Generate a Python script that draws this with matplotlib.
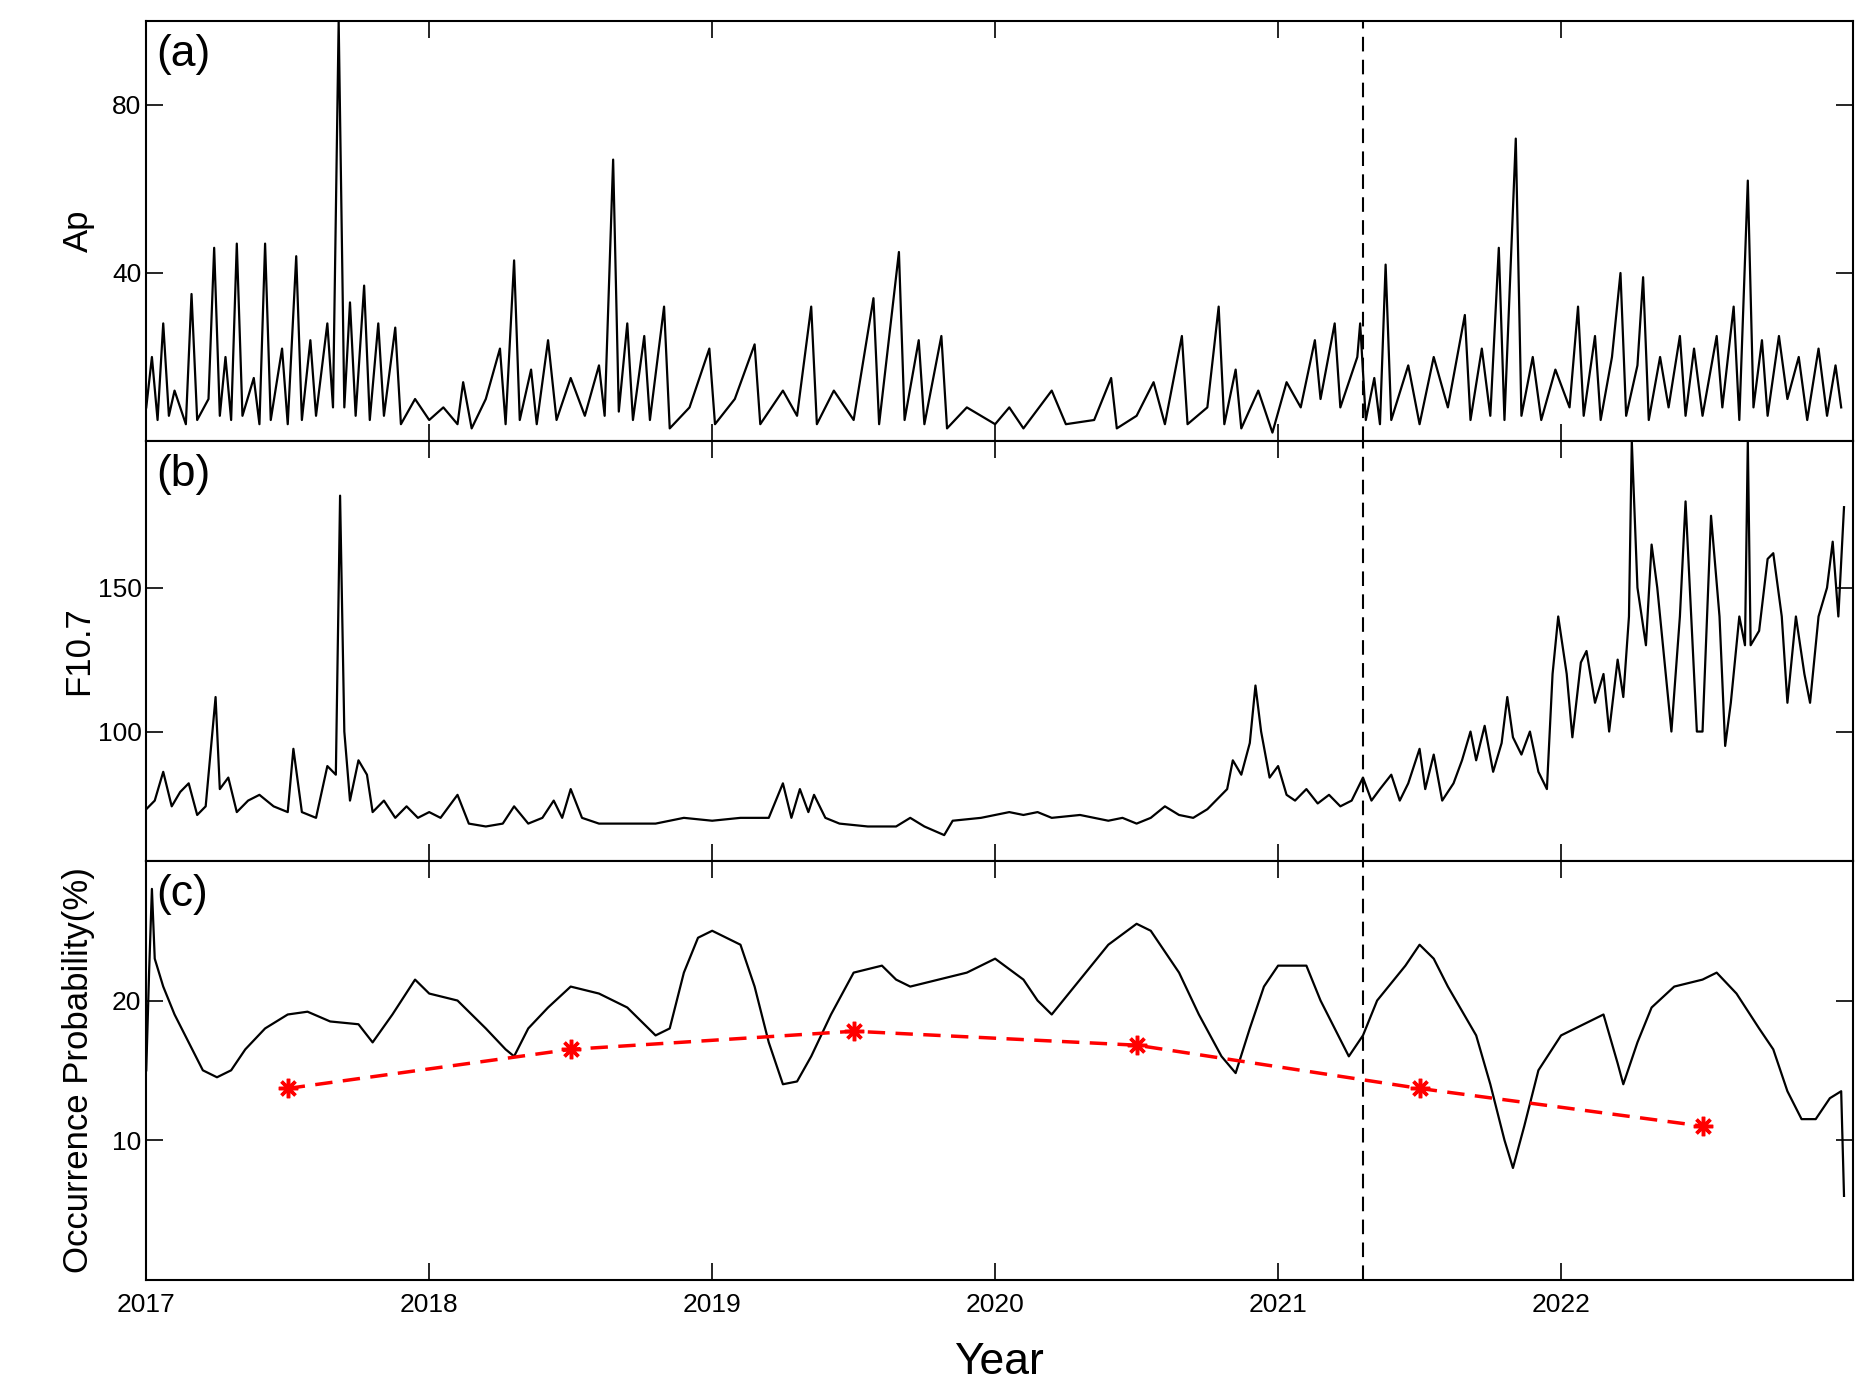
import matplotlib
matplotlib.use("Agg")
import matplotlib.pyplot as plt
import numpy as np

plt.rcParams['font.family'] = ['Liberation Sans', 'DejaVu Sans']

ap_t = [2017.00,2017.02,2017.04,2017.06,2017.08,2017.10,2017.14,2017.16,2017.18,2017.22,2017.24,2017.26,2017.28,2017.30,2017.32,2017.34,2017.38,2017.40,2017.42,2017.44,2017.48,2017.50,2017.53,2017.55,2017.58,2017.60,2017.64,2017.66,2017.68,2017.70,2017.72,2017.74,2017.77,2017.79,2017.82,2017.84,2017.88,2017.90,2017.95,2018.00,2018.05,2018.10,2018.12,2018.15,2018.20,2018.25,2018.27,2018.30,2018.32,2018.36,2018.38,2018.42,2018.45,2018.50,2018.55,2018.60,2018.62,2018.65,2018.67,2018.70,2018.72,2018.76,2018.78,2018.83,2018.85,2018.92,2018.99,2019.01,2019.08,2019.15,2019.17,2019.25,2019.30,2019.35,2019.37,2019.43,2019.50,2019.57,2019.59,2019.66,2019.68,2019.73,2019.75,2019.81,2019.83,2019.90,2020.00,2020.05,2020.10,2020.20,2020.25,2020.35,2020.41,2020.43,2020.50,2020.56,2020.60,2020.66,2020.68,2020.75,2020.79,2020.81,2020.85,2020.87,2020.93,2020.98,2021.03,2021.08,2021.13,2021.15,2021.20,2021.22,2021.28,2021.29,2021.31,2021.34,2021.36,2021.38,2021.40,2021.46,2021.50,2021.55,2021.60,2021.66,2021.68,2021.72,2021.75,2021.78,2021.80,2021.84,2021.86,2021.90,2021.93,2021.98,2022.03,2022.06,2022.08,2022.12,2022.14,2022.18,2022.21,2022.23,2022.27,2022.29,2022.31,2022.35,2022.38,2022.42,2022.44,2022.47,2022.50,2022.55,2022.57,2022.61,2022.63,2022.66,2022.68,2022.71,2022.73,2022.77,2022.80,2022.84,2022.87,2022.91,2022.94,2022.97,2022.99]
ap_v = [8,20,5,28,6,12,4,35,5,10,46,6,20,5,47,6,15,4,47,5,22,4,44,5,24,6,28,8,100,8,33,6,37,5,28,6,27,4,10,5,8,4,14,3,10,22,4,43,5,17,4,24,5,15,6,18,6,67,7,28,5,25,5,32,3,8,22,4,10,23,4,12,6,32,4,12,5,34,4,45,5,24,4,25,3,8,4,8,3,12,4,5,15,3,6,14,4,25,4,8,32,4,17,3,12,2,14,8,24,10,28,8,20,28,5,15,4,42,5,18,4,20,8,30,5,22,6,46,5,72,6,20,5,17,8,32,6,25,5,20,40,6,18,39,5,20,8,25,6,22,6,25,8,32,5,62,8,24,6,25,10,20,5,22,6,18,8]

f_t = [2017.00,2017.03,2017.06,2017.09,2017.12,2017.15,2017.18,2017.21,2017.245,2017.26,2017.29,2017.32,2017.36,2017.40,2017.45,2017.50,2017.52,2017.55,2017.60,2017.64,2017.67,2017.685,2017.70,2017.72,2017.75,2017.78,2017.80,2017.84,2017.88,2017.92,2017.96,2018.00,2018.04,2018.10,2018.14,2018.20,2018.26,2018.30,2018.35,2018.40,2018.44,2018.47,2018.50,2018.54,2018.60,2018.70,2018.80,2018.90,2019.00,2019.10,2019.20,2019.25,2019.28,2019.31,2019.34,2019.36,2019.40,2019.45,2019.55,2019.65,2019.70,2019.75,2019.82,2019.85,2019.95,2020.00,2020.05,2020.10,2020.15,2020.20,2020.30,2020.40,2020.45,2020.50,2020.55,2020.60,2020.65,2020.70,2020.75,2020.78,2020.82,2020.84,2020.87,2020.90,2020.92,2020.94,2020.97,2021.00,2021.03,2021.06,2021.10,2021.14,2021.18,2021.22,2021.26,2021.30,2021.33,2021.36,2021.40,2021.43,2021.46,2021.50,2021.52,2021.55,2021.58,2021.62,2021.65,2021.68,2021.70,2021.73,2021.76,2021.79,2021.81,2021.83,2021.86,2021.89,2021.92,2021.95,2021.97,2021.99,2022.02,2022.04,2022.07,2022.09,2022.12,2022.15,2022.17,2022.20,2022.22,2022.24,2022.25,2022.27,2022.30,2022.32,2022.34,2022.37,2022.39,2022.42,2022.44,2022.46,2022.48,2022.50,2022.53,2022.56,2022.58,2022.60,2022.63,2022.65,2022.66,2022.67,2022.70,2022.73,2022.75,2022.78,2022.80,2022.83,2022.86,2022.88,2022.91,2022.94,2022.96,2022.98,2023.00]
f_v = [73,76,86,74,79,82,71,74,112,80,84,72,76,78,74,72,94,72,70,88,85,182,100,76,90,85,72,76,70,74,70,72,70,78,68,67,68,74,68,70,76,70,80,70,68,68,68,70,69,70,70,82,70,80,72,78,70,68,67,67,70,67,64,69,70,71,72,71,72,70,71,69,70,68,70,74,71,70,73,76,80,90,85,96,116,100,84,88,78,76,80,75,78,74,76,84,76,80,85,76,82,94,80,92,76,82,90,100,90,102,86,96,112,98,92,100,86,80,120,140,120,98,124,128,110,120,100,125,112,140,201,150,130,165,150,120,100,140,180,140,100,100,175,140,95,110,140,130,201,130,135,160,162,140,110,140,120,110,140,150,166,140,178]

oc_t = [2017.00,2017.01,2017.02,2017.03,2017.06,2017.10,2017.15,2017.20,2017.25,2017.30,2017.35,2017.42,2017.50,2017.57,2017.65,2017.75,2017.80,2017.87,2017.95,2018.00,2018.10,2018.20,2018.27,2018.30,2018.35,2018.42,2018.50,2018.60,2018.70,2018.80,2018.85,2018.90,2018.95,2019.00,2019.10,2019.15,2019.20,2019.25,2019.30,2019.35,2019.42,2019.50,2019.60,2019.65,2019.70,2019.80,2019.90,2020.00,2020.10,2020.15,2020.20,2020.30,2020.40,2020.50,2020.55,2020.65,2020.72,2020.80,2020.85,2020.90,2020.95,2021.00,2021.10,2021.15,2021.25,2021.30,2021.35,2021.45,2021.50,2021.55,2021.60,2021.70,2021.75,2021.80,2021.83,2021.87,2021.92,2022.00,2022.05,2022.10,2022.15,2022.20,2022.22,2022.27,2022.32,2022.40,2022.50,2022.55,2022.62,2022.70,2022.75,2022.80,2022.85,2022.90,2022.95,2022.99,2023.00]
oc_v = [15,22,28,23,21,19,17,15,14.5,15,16.5,18,19,19.2,18.5,18.3,17,19,21.5,20.5,20,18,16.5,16,18,19.5,21,20.5,19.5,17.5,18,22,24.5,25,24,21,17,14,14.2,16,19,22,22.5,21.5,21,21.5,22,23,21.5,20,19,21.5,24,25.5,25,22,19,16,14.8,18,21,22.5,22.5,20,16,17.5,20,22.5,24,23,21,17.5,14,10,8,11,15,17.5,18,18.5,19,15.5,14,17,19.5,21,21.5,22,20.5,18,16.5,13.5,11.5,11.5,13,13.5,6]

red_t = [2017.5,2018.5,2019.5,2020.5,2021.5,2022.5]
red_v = [13.7,16.5,17.8,16.8,13.7,11.0]

vline = 2021.3

fig = plt.figure(figsize=(18.75, 14), dpi=100)
L, W = 0.078, 0.91
axa = fig.add_axes([L, 0.685, W, 0.300])
axb = fig.add_axes([L, 0.385, W, 0.300])
axc = fig.add_axes([L, 0.086, W, 0.299])

axa.plot(ap_t, ap_v, color='k', lw=1.6)
axb.plot(f_t, f_v, color='k', lw=1.6)
axc.plot(oc_t, oc_v, color='k', lw=1.6)
axc.plot(red_t, red_v, color='red', ls=(0, (5, 3)), lw=2.5, marker=(8, 2, 0), ms=14, mew=2.5)

axa.set_ylim(0, 100); axa.set_yticks([40, 80])
axb.set_ylim(55, 201); axb.set_yticks([100, 150])
axc.set_ylim(0, 30); axc.set_yticks([10, 20])
axa.set_ylabel('Ap', fontsize=25)
axb.set_ylabel('F10.7', fontsize=25)
axc.set_ylabel('Occurrence Probability(%)', fontsize=25)
axc.set_xlabel('Year', fontsize=32, labelpad=18)

for ax, lab in zip([axa, axb, axc], ['(a)', '(b)', '(c)']):
    ax.set_xlim(2017, 2023.03)
    ax.set_xticks([2017, 2018, 2019, 2020, 2021, 2022])
    ax.tick_params(direction='in', top=True, right=True, length=12, width=1.2, labelsize=19)
    ax.tick_params(axis='x', pad=10)
    ax.axvline(vline, color='k', ls=(0, (7, 4)), lw=1.5)
    ax.text(0.006, 0.97, lab, transform=ax.transAxes, fontsize=32, va='top', ha='left')
    for s in ax.spines.values():
        s.set_linewidth(1.5)
    if ax is not axc:
        ax.tick_params(labelbottom=False)
    ax.yaxis.set_label_coords(-0.03, 0.5)
axc.set_xticklabels(['2017', '2018', '2019', '2020', '2021', '2022'])

fig.savefig('out.png', dpi=100)
